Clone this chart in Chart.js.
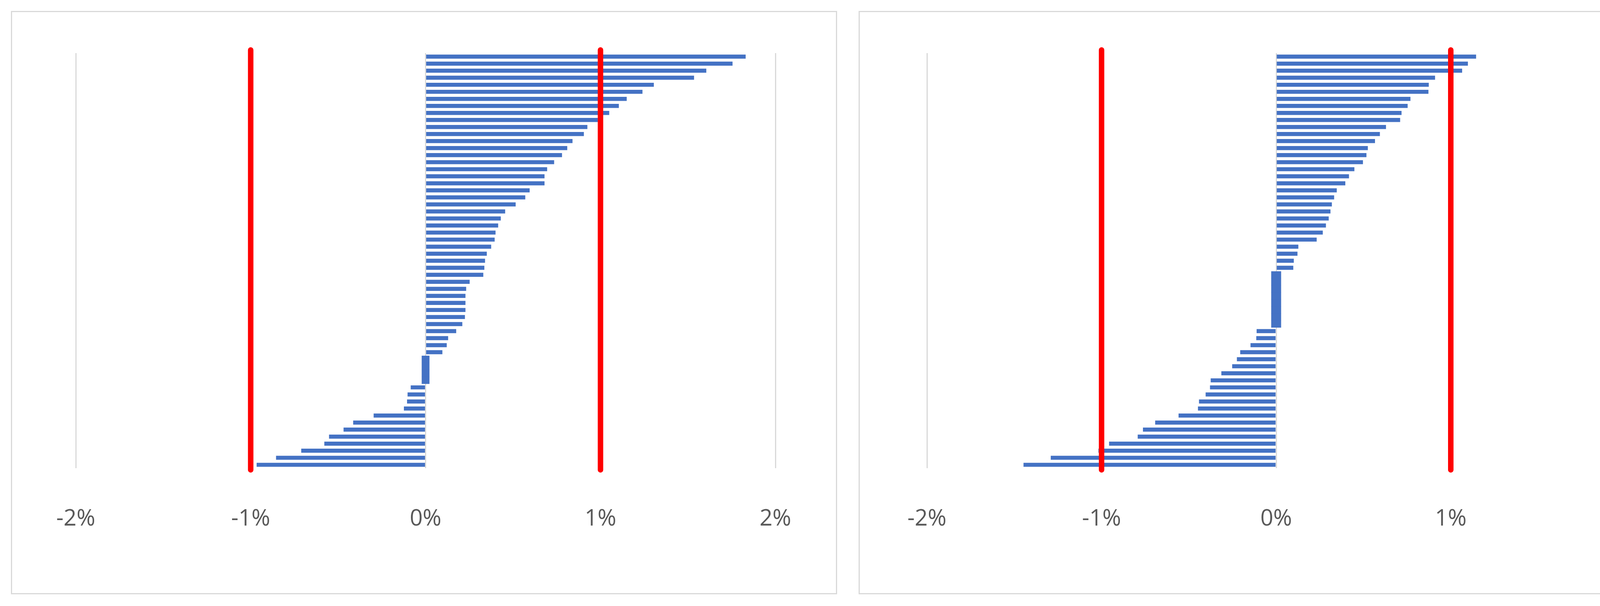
<!DOCTYPE html>
<html>
<head>
<meta charset="utf-8">
<script src="https://cdn.jsdelivr.net/npm/chart.js@4.4.0/dist/chart.umd.min.js"></script>
<style>
  html, body { margin: 0; padding: 0; background: #fff; }
  body { width: 4347px; height: 1552px; position: relative; overflow: hidden; }
  .panel { position: absolute; top: 28px; height: 1494px; border: 3px solid #d9d9d9; box-sizing: border-box; background: #fff; }
  #p1 { left: 28px; width: 2115px; }
  #p2 { left: 2198px; width: 2118px; }
</style>
</head>
<body>
<div class="panel" id="p1"><canvas id="c1"></canvas></div>
<div class="panel" id="p2"><canvas id="c2"></canvas></div>
<script>
// values in %, sorted top to bottom
const leftValues = [1.83, 1.755, 1.605, 1.535, 1.305, 1.24, 1.15, 1.105, 1.05, 0.985,
  0.925, 0.905, 0.84, 0.81, 0.78, 0.735, 0.695, 0.68, 0.68, 0.595,
  0.57, 0.515, 0.455, 0.43, 0.415, 0.40, 0.395, 0.375, 0.35, 0.34,
  0.336, 0.33, 0.252, 0.232, 0.228, 0.228, 0.228, 0.225, 0.21, 0.175,
  0.129, 0.121, 0.096, 0, 0, 0, 0,
  -0.085, -0.103, -0.106, -0.124, -0.297, -0.414, -0.469, -0.552, -0.579, -0.711, -0.855, -0.966];

const rightValues = [1.145, 1.098, 1.065, 0.91, 0.874, 0.872, 0.769, 0.753, 0.718, 0.71,
  0.629, 0.594, 0.566, 0.525, 0.517, 0.497, 0.448, 0.417, 0.396, 0.347,
  0.332, 0.319, 0.311, 0.301, 0.285, 0.267, 0.232, 0.127, 0.122, 0.101, 0.098,
  0, 0, 0, 0, 0, 0, 0, 0,
  -0.112, -0.114, -0.147, -0.206, -0.225, -0.252, -0.314, -0.375, -0.379, -0.404,
  -0.442, -0.448, -0.559, -0.693, -0.763, -0.793, -0.957, -1.018, -1.291, -1.447];

const tickValues = [-2, -1, 0, 1, 2];
const limitLines = [-1, 1];

const barBlue = "#4472c4";

const limitPlugin = {
  id: "limits",
  afterDatasetsDraw(chart) {
    const ctx = chart.ctx, x = chart.scales.x, area = chart.chartArea;
    ctx.save();
    ctx.strokeStyle = "#ff0000";
    ctx.lineWidth = 14;
    ctx.lineCap = "round";
    limitLines.forEach(v => {
      const px = x.getPixelForValue(v);
      ctx.beginPath();
      ctx.moveTo(px, area.top - 8);
      ctx.lineTo(px, area.bottom + 4);
      ctx.stroke();
    });
    ctx.restore();
  }
};

function makeChart(id, values, zeroHalf, pad) {
  const labels = values.map((_, i) => String(i + 1));
  // near-zero values show as one solid block around the axis
  const zeroMarks = values.map(v => v === 0 ? [-zeroHalf, zeroHalf] : null);
  return new Chart(document.getElementById(id), {
    type: "bar",
    data: {
      labels: labels,
      datasets: [
        { data: values, backgroundColor: barBlue, barPercentage: 0.58, categoryPercentage: 1.0, grouped: false },
        { data: zeroMarks, backgroundColor: barBlue, borderColor: barBlue, borderWidth: 1, barPercentage: 1.0, categoryPercentage: 1.0, grouped: false, borderSkipped: false }
      ]
    },
    options: {
      indexAxis: "y",
      responsive: true,
      maintainAspectRatio: false,
      devicePixelRatio: 1,
      animation: false,
      layout: { padding: pad },
      plugins: { legend: { display: false }, tooltip: { enabled: false } },
      scales: {
        x: {
          min: -2, max: 2,
          afterBuildTicks: s => { s.ticks = tickValues.map(v => ({ value: v })); },
          border: { display: false },
          grid: { color: "#d9d9d9", lineWidth: 3, drawTicks: false },
          ticks: {
            padding: 95,
            color: "#595959",
            font: { family: "Open Sans", size: 58 },
            callback: v => v + "%"
          }
        },
        y: { display: false }
      }
    },
    plugins: [limitPlugin]
  });
}

makeChart("c1", leftValues, 0.022, { left: 163, right: 155, top: 105, bottom: 60 });
makeChart("c2", rightValues, 0.028, { left: 172, right: 152, top: 105, bottom: 60 });
</script>
</body>
</html>
